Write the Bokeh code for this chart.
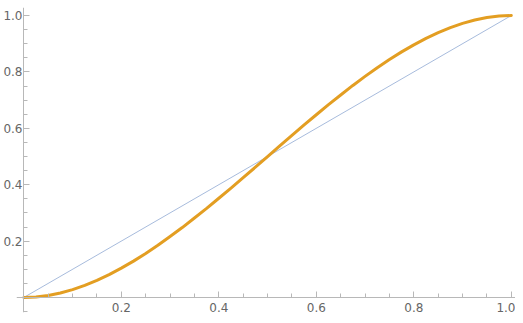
from bokeh.plotting import figure
from bokeh.models import LinearAxis, FixedTicker, Range1d, PrintfTickFormatter
from bokeh.embed import file_html
from bokeh.resources import INLINE

# Curve values
x_vals = [0.0, 0.025, 0.05, 0.075, 0.1, 0.125, 0.15, 0.175, 0.2, 0.225, 0.25,
          0.275, 0.3, 0.325, 0.35, 0.375, 0.4, 0.425, 0.45, 0.475, 0.5,
          0.525, 0.55, 0.575, 0.6, 0.625, 0.65, 0.675, 0.7, 0.725, 0.75,
          0.775, 0.8, 0.825, 0.85, 0.875, 0.9, 0.925, 0.95, 0.975, 1.0]
y_vals = [0.0, 0.002, 0.007, 0.016, 0.028, 0.043, 0.061, 0.081, 0.104, 0.129, 0.156,
          0.185, 0.216, 0.248, 0.282, 0.316, 0.352, 0.388, 0.425, 0.462, 0.5,
          0.538, 0.575, 0.612, 0.648, 0.684, 0.718, 0.752, 0.784, 0.815, 0.844,
          0.871, 0.896, 0.919, 0.939, 0.957, 0.972, 0.984, 0.993, 0.998, 1.0]
diag_x = [0.0, 1.0]
diag_y = [0.0, 1.0]
major_ticks = [0.2, 0.4, 0.6, 0.8, 1.0]
minor_ticks = [-0.05, 0.05, 0.1, 0.15, 0.25, 0.3, 0.35, 0.45, 0.5, 0.55, 0.65, 0.7, 0.75,
               0.85, 0.9, 0.95, 1.05]

p = figure(width=515, height=315, output_backend="svg", toolbar_location=None,
           x_range=Range1d(-0.0150, 1.0086), y_range=Range1d(-0.0532, 1.0284),
           x_axis_type=None, y_axis_type=None,
           min_border_left=16, min_border_right=0, min_border_top=7, min_border_bottom=3)
p.outline_line_color = None
p.background_fill_color = "white"
p.border_fill_color = "white"

p.line(diag_x, diag_y, line_color="#9db3d8", line_width=0.9)
p.line(x_vals, y_vals, line_color="#E39E22", line_width=3, line_join="round", line_cap="round")

def style(ax):
    ax.ticker = FixedTicker(ticks=major_ticks, minor_ticks=minor_ticks)
    ax.formatter = PrintfTickFormatter(format="%.1f")
    ax.fixed_location = 0
    ax.axis_line_color = "#b8b8b8"
    ax.axis_line_width = 1
    ax.major_tick_line_color = "#b8b8b8"
    ax.minor_tick_line_color = "#b8b8b8"
    ax.major_tick_out = 0
    ax.major_tick_in = 6
    ax.minor_tick_out = 0
    ax.minor_tick_in = 4
    ax.major_label_text_font = "DejaVu Sans"
    ax.major_label_text_font_size = "12px"
    ax.major_label_text_color = "#666666"
    ax.major_label_standoff = 6

xa = LinearAxis()
style(xa)
ya = LinearAxis()
style(ya)
ya.major_label_text_alpha = 0
p.add_layout(xa, "below")
p.add_layout(ya, "left")

# label-only axis for the y tick labels, placed at the frame edge
yl = LinearAxis(ticker=FixedTicker(ticks=major_ticks),
                formatter=PrintfTickFormatter(format="%.1f"))
yl.axis_line_color = None
yl.major_tick_line_color = None
yl.minor_tick_line_color = None
yl.major_tick_in = 0
yl.major_tick_out = 0
yl.major_label_text_font = "DejaVu Sans"
yl.major_label_text_font_size = "12px"
yl.major_label_text_color = "#666666"
yl.major_label_standoff = -6
p.add_layout(yl, "left")

open("out.html", "w").write(file_html(p, INLINE))
